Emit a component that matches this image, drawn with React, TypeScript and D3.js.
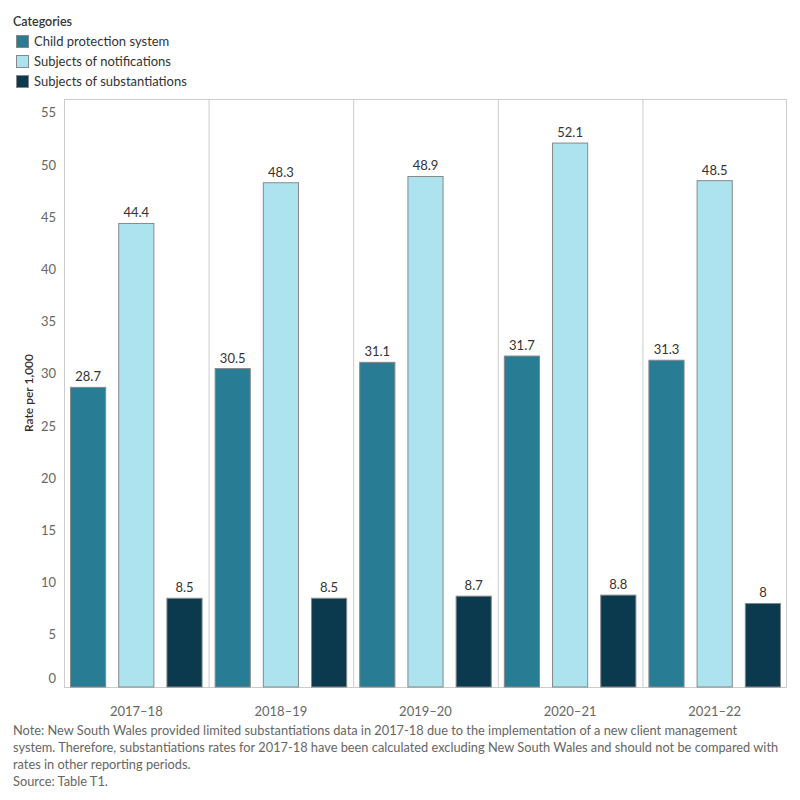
import React from "react";
import * as d3 from "d3";

const years = ["2017–18", "2018–19", "2019–20", "2020–21", "2021–22"];
const seriesNames = ["Child protection system", "Subjects of notifications", "Subjects of substantiations"];
const childProtection = [28.7, 30.5, 31.1, 31.7, 31.3];
const notifications = [44.4, 48.3, 48.9, 52.1, 48.5];
const substantiations = [8.5, 8.5, 8.7, 8.8, 8];
const colors = ["#287C94", "#ADE3EE", "#0B3A4F"];
const yTicks = [0, 5, 10, 15, 20, 25, 30, 35, 40, 45, 50, 55];
const noteLines = [
  "Note: New South Wales provided limited substantiations data in 2017-18 due to the implementation of a new client management",
  "system. Therefore, substantiations rates for 2017-18 have been calculated excluding New South Wales and should not be compared with",
  "rates in other reporting periods.",
  "Source: Table T1.",
];

const FONT = "Lato, 'Noto Sans', sans-serif";

export default function App() {
  const left = 64, right = 787, top = 99, bottom = 687;
  const allSeries = [childProtection, notifications, substantiations];
  const x0 = d3.scaleBand<string>().domain(years).range([left, right]).padding(0);
  const x1 = d3.scaleBand<string>().domain(seriesNames).range([0, x0.bandwidth()]).paddingInner(0.25).paddingOuter(0.125);
  const y = d3.scaleLinear().domain([0, 55]).range([bottom, bottom - 55 * 10.44]);

  return (
    <svg width={800} height={800} style={{ position: "absolute", left: 0, top: 0, fontFamily: FONT }}>
      <rect x={0} y={0} width={800} height={800} fill="#fff" />
      {/* legend */}
      <text x={13} y={26} fontSize={12.5} fill="#333" fontWeight={600}>Categories</text>
      {seriesNames.map((s, i) => (
        <g key={s}>
          <rect x={16.5} y={35.5 + i * 20} width={12} height={12} fill={colors[i]} stroke="#888" />
          <text x={34} y={46 + i * 20} fontSize={13} fill="#333">{s}</text>
        </g>
      ))}
      {/* plot frame */}
      <rect x={left + 0.5} y={top + 0.5} width={right - left - 1} height={bottom - top} fill="none" stroke="#ccc" />
      {years.slice(1).map((yr) => (
        <line key={yr} x1={x0(yr)! + 0.5} x2={x0(yr)! + 0.5} y1={top} y2={bottom} stroke="#ccc" />
      ))}
      {/* y ticks */}
      {yTicks.map((t) => (
        <text key={t} x={56} y={(t === 0 ? y(t) - 9 : y(t)) + 4.5} textAnchor="end" fontSize={13} fill="#666">{t}</text>
      ))}
      <text transform={`translate(33,${(top + bottom) / 2}) rotate(-90)`} textAnchor="middle" fontSize={12} fill="#3a2a2a" fontWeight={600}>Rate per 1,000</text>
      {/* bars */}
      {years.map((yr, yi) => (
        <g key={yr}>
          {allSeries.map((arr, si) => {
            const bx = x0(yr)! + x1(seriesNames[si])!;
            const v = arr[yi];
            return (
              <g key={si}>
                <rect x={bx + 0.5} y={y(v)} width={x1.bandwidth() - 1} height={bottom - y(v)} fill={colors[si]} stroke="#888" strokeWidth={1} />
                <text x={bx + x1.bandwidth() / 2} y={y(v) - 6} textAnchor="middle" fontSize={13} fill="#333">{v}</text>
              </g>
            );
          })}
          <text x={x0(yr)! + x0.bandwidth() / 2} y={716} textAnchor="middle" fontSize={13} fill="#666">{yr}</text>
        </g>
      ))}
      {noteLines.map((l, i) => (
        <text key={i} x={13} y={735 + i * 17} fontSize={12.8} fill="#666">{l}</text>
      ))}
    </svg>
  );
}
